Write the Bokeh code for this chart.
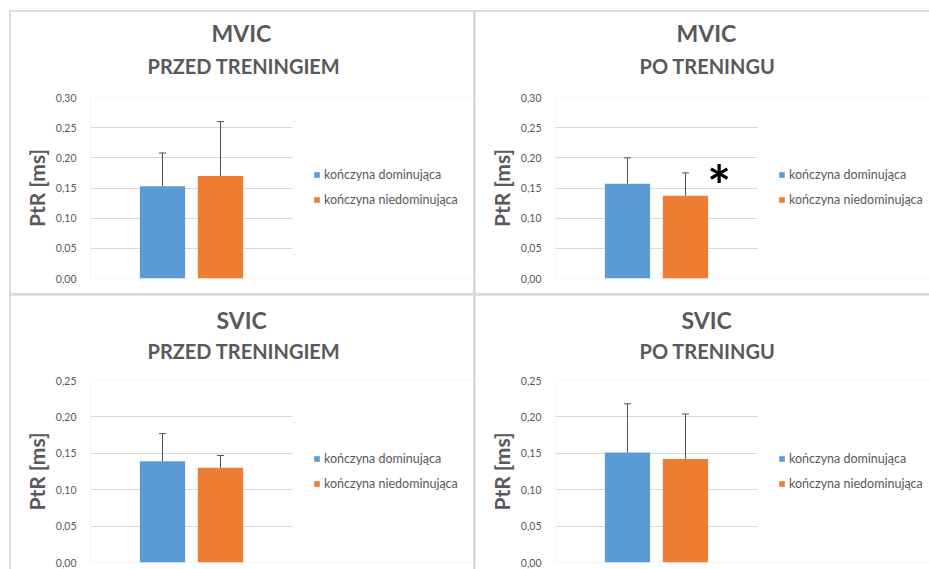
from bokeh.plotting import figure
from bokeh.models import (ColumnDataSource, Range1d, Whisker, TeeHead, Legend, LegendItem,
                          Title, Label, FixedTicker, CustomJSTickFormatter, Row, Column, Spacer)
from bokeh.embed import file_html
from bokeh.resources import INLINE

# ---- data ----
series = ["kończyna dominująca", "kończyna niedominująca"]
series_colors = ["#5B9BD5", "#ED7D31"]
series_index = [0, 1]

mvic_pre_mean = [0.153, 0.170]
mvic_pre_upper = [0.208, 0.260]
mvic_post_mean = [0.157, 0.137]
mvic_post_upper = [0.200, 0.175]
svic_pre_mean = [0.139, 0.130]
svic_pre_upper = [0.177, 0.147]
svic_post_mean = [0.151, 0.142]
svic_post_upper = [0.218, 0.204]

yticks_mvic = [0.00, 0.05, 0.10, 0.15, 0.20, 0.25, 0.30]
yticks_svic = [0.00, 0.05, 0.10, 0.15, 0.20, 0.25]

FONT = "Lato"
GREY = "#595959"
BORDER = "#d9d9d9"

# layout constants (pixels)
PXU = 58.0        # pixels per x unit
X0 = -1.241       # x value at left edge of plotting area
PLOT_W = 202      # width of gridded plotting area
LEFT = 80


def panel(t1, t2, off1, off2, means, uppers, ticks, w, h, bt, bb, s2, star=False):
    frame_w = w - LEFT
    p = figure(width=w, height=h, x_range=Range1d(X0, X0 + frame_w / PXU),
               y_range=Range1d(ticks[0], ticks[-1]),
               output_backend="svg", toolbar_location=None,
               min_border_left=LEFT, min_border_right=0, min_border_top=bt, min_border_bottom=bb,
               outline_line_color=None, background_fill_color="white", border_fill_color="white")
    src = ColumnDataSource(dict(x=series_index, top=means, upper=uppers,
                                color=series_colors, label=series))
    tk = FixedTicker(ticks=ticks)
    p.xaxis.visible = False
    p.xgrid.visible = False
    p.yaxis.ticker = tk
    p.ygrid.ticker = tk
    p.ygrid.grid_line_color = BORDER
    if "cross_bounds" in p.ygrid.properties():
        p.ygrid.cross_bounds = (X0, X0 + PLOT_W / PXU)
    else:
        p.ygrid.visible = False
        p.segment(x0=X0, x1=X0 + PLOT_W / PXU, y0=ticks, y1=ticks, line_color=BORDER, line_width=1)

    r = p.vbar(x="x", top="top", width=0.78, fill_color="color", line_color=None, source=src)
    p.add_layout(Whisker(base="x", lower="top", upper="upper", source=src,
                         line_color="#505050", line_width=1, lower_head=None,
                         upper_head=TeeHead(size=7, line_color="#505050", line_width=1)))

    legend = Legend(items=[LegendItem(label=series[i], renderers=[r], index=i) for i in series_index],
                    location=(PLOT_W + 21, 69), orientation="vertical",
                    border_line_color=None, background_fill_alpha=0,
                    glyph_width=7, glyph_height=7, label_standoff=4,
                    label_text_font_size="12.5px", label_text_color=GREY, label_text_font=FONT,
                    spacing=5, padding=0, margin=0, label_height=20)
    p.add_layout(legend, "center")

    p.add_layout(Title(text=t2, align="left", offset=off2, text_font_size="20px",
                       text_font_style="bold", text_color=GREY, text_font=FONT, standoff=s2), "above")
    p.add_layout(Title(text=t1, align="left", offset=off1, text_font_size="23px",
                       text_font_style="bold", text_color=GREY, text_font=FONT, standoff=-30), "above")

    p.yaxis.formatter = CustomJSTickFormatter(code="return tick.toFixed(2).replace('.', ',');")
    p.yaxis.axis_line_color = None
    p.yaxis.major_tick_line_color = None
    p.yaxis.minor_tick_line_color = None
    p.yaxis.major_label_text_font_size = "10.5px"
    p.yaxis.major_label_text_color = GREY
    p.yaxis.major_label_text_font = FONT
    p.yaxis.major_label_standoff = 8
    p.yaxis.axis_label = "PtR [ms]"
    p.yaxis.axis_label_text_font = FONT
    p.yaxis.axis_label_text_font_style = "bold"
    p.yaxis.axis_label_text_font_size = "21px"
    p.yaxis.axis_label_text_color = GREY
    p.yaxis.axis_label_standoff = 4

    if star:
        p.add_layout(Label(x=series_index[1] + 0.58, y=uppers[1], text="*",
                           text_font_size="56px", text_font_style="bold", text_color="black",
                           text_font=FONT, text_align="center", text_baseline="middle",
                           y_offset=-12))
    return p


f1 = panel("MVIC", "PRZED TRENINGIEM", 121, 57, mvic_pre_mean, mvic_pre_upper, yticks_mvic,
           463, 282, 86, 15, 40)
f2 = panel("MVIC", "PO TRENINGU", 121, 84, mvic_post_mean, mvic_post_upper, yticks_mvic,
           454, 282, 86, 15, 40, star=True)
f3 = panel("SVIC", "PRZED TRENINGIEM", 126, 57, svic_pre_mean, svic_pre_upper, yticks_svic,
           463, 274, 85, 7, 36)
f4 = panel("SVIC", "PO TRENINGU", 126, 84, svic_post_mean, svic_post_upper, yticks_svic,
           454, 274, 85, 7, 36)

grey = {"background-color": BORDER}
top = Row(children=[f1, f2], spacing=2, styles=grey)
bottom = Row(children=[f3, f4], spacing=2, styles=grey)
grid = Column(children=[top, bottom], spacing=2, styles=grey)
framed = Row(children=[Spacer(width=1), Column(children=[Spacer(height=1), grid], styles=grey)],
             styles=grey)
layout = Column(children=[Spacer(height=10), Row(children=[Spacer(width=9), framed])],
                styles={"background-color": "white"})

open("out.html", "w").write(file_html(layout, INLINE))
